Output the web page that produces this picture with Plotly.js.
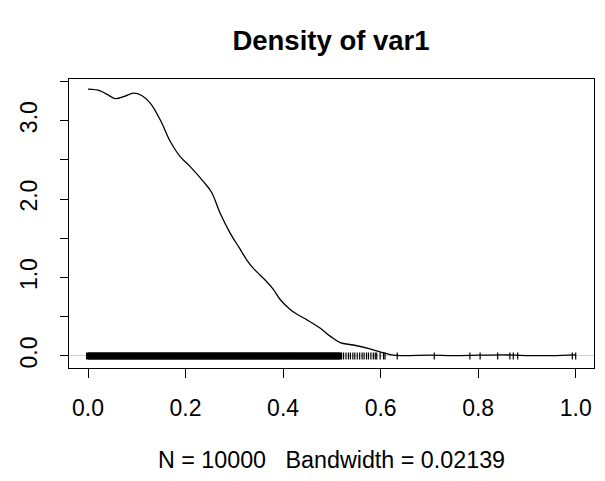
<!DOCTYPE html>
<html>
<head>
<meta charset="utf-8">
<script src="https://cdn.plot.ly/plotly-3.0.1.min.js"></script>
<style>html,body{margin:0;padding:0;background:#fff}#chart{width:605px;height:481px}</style>
</head>
<body>
<div id="chart"></div>
<script>
// Density estimate
var densX = [0, 0.025, 0.04, 0.056, 0.075, 0.093, 0.11, 0.128, 0.148, 0.169, 0.189, 0.21, 0.237, 0.253, 0.271, 0.292, 0.31, 0.326, 0.34, 0.353, 0.366, 0.38, 0.394, 0.415, 0.432, 0.449, 0.477, 0.497, 0.517, 0.544, 0.578, 0.60, 0.626, 0.65, 0.70, 0.75, 0.80, 0.85, 0.90, 0.95, 1.0];
var densY = [3.40, 3.38, 3.33, 3.28, 3.31, 3.35, 3.32, 3.22, 3.01, 2.73, 2.54, 2.41, 2.22, 2.09, 1.82, 1.56, 1.38, 1.22, 1.11, 1.03, 0.95, 0.85, 0.72, 0.59, 0.52, 0.46, 0.35, 0.25, 0.17, 0.14, 0.09, 0.05, 0.01, 0.005, 0.01, 0.005, 0.01, 0.015, 0.005, 0.005, 0.015];

// Rug: observations (dense band, then sparser tail)
var rugDense = [0.000,0.004,0.008,0.012,0.016,0.020,0.024,0.028,0.032,0.036,0.040,0.044,0.048,0.052,0.056,0.060,0.064,0.068,0.072,0.076,0.080,0.084,0.088,0.092,0.096,0.100,0.104,0.108,0.112,0.116,0.120,0.124,0.128,0.132,0.136,0.140,0.144,0.148,0.152,0.156,0.160,0.164,0.168,0.172,0.176,0.180,0.184,0.188,0.192,0.196,0.200,0.204,0.208,0.212,0.216,0.220,0.224,0.228,0.232,0.236,0.240,0.244,0.248,0.252,0.256,0.260,0.264,0.268,0.272,0.276,0.280,0.284,0.288,0.292,0.296,0.300,0.304,0.308,0.312,0.316,0.320,0.324,0.328,0.332,0.336,0.340,0.344,0.348,0.352,0.356,0.360,0.364,0.368,0.372,0.376,0.380,0.384,0.388,0.392,0.396,0.400,0.404,0.408,0.412,0.416,0.420,0.424,0.428,0.432,0.436,0.440,0.444,0.448,0.452,0.456,0.460,0.464,0.468,0.472,0.476,0.480,0.484,0.488,0.492,0.496,0.500,0.504,0.508,0.512,0.516];
var rugTail = [0.520,0.524,0.529,0.534,0.538,0.543,0.547,0.552,0.557,0.562,0.566,0.571,0.575,0.580,0.585,0.589,0.592,0.599,0.606,0.609,0.634,0.710,0.783,0.804,0.840,0.865,0.872,0.881,0.993,1.000];

var xTicks = [0, 0.2, 0.4, 0.6, 0.8, 1.0];
var xTickText = ["0.0", "0.2", "0.4", "0.6", "0.8", "1.0"];
var yTicks = [0, 0.5, 1, 1.5, 2, 2.5, 3, 3.5];
var yTickText = ["0.0", "", "1.0", "", "2.0", "", "3.0", ""];

var titleText = "Density of var1";
var xLabel = "N = 10000   Bandwidth = 0.02139";

function zeros(a){ return a.map(function(){ return 0; }); }

var traces = [
  {x: densX, y: densY, type: 'scatter', mode: 'lines', line: {color: '#000', width: 1.3, shape: 'spline', smoothing: 1}, hoverinfo: 'skip'},
  {x: rugDense, y: zeros(rugDense), type: 'scatter', mode: 'markers', marker: {symbol: 'line-ns', size: 5, color: '#000', line: {color: '#000', width: 4}}, hoverinfo: 'skip'},
  {x: rugTail, y: zeros(rugTail), type: 'scatter', mode: 'markers', marker: {symbol: 'line-ns', size: 5, color: '#000', line: {color: '#000', width: 1.2}}, hoverinfo: 'skip'}
];

var font = "Liberation Sans, Arial, Helvetica, sans-serif";
var layout = {
  width: 605, height: 481,
  margin: {l: 69, r: 11, t: 79, b: 113, pad: 0},
  paper_bgcolor: '#fff', plot_bgcolor: '#fff',
  showlegend: false,
  font: {family: font, color: '#000', size: 23},
  title: {text: '<b>' + titleText + '</b>', font: {family: font, size: 27.5, color: '#000'}, x: 331/605, xanchor: 'center', xref: 'container', y: 1 - 40/481, yanchor: 'middle', yref: 'container'},
  xaxis: {
    range: [-0.039, 1.0375], tickvals: xTicks, ticktext: xTickText,
    ticks: 'outside', ticklen: 9, tickwidth: 1, tickcolor: '#000',
    showline: true, linecolor: '#000', linewidth: 1, mirror: true,
    showgrid: false, zeroline: false,
    tickfont: {family: font, size: 23, color: '#000'},
    ticklabelstandoff: 10,
    title: {text: xLabel, font: {family: font, size: 23.3, color: '#000'}, standoff: 32}
  },
  yaxis: {
    range: [-0.153, 3.53], tickvals: yTicks, ticktext: yTickText,
    ticks: 'outside', ticklen: 8, tickwidth: 1, tickcolor: '#000', tickangle: -90,
    showline: true, linecolor: '#000', linewidth: 1, mirror: true,
    showgrid: false, zeroline: true, zerolinecolor: '#d0d0d0', zerolinewidth: 1,
    tickfont: {family: font, size: 23, color: '#000'},
    ticklabelstandoff: 14
  }
};

Plotly.newPlot('chart', traces, layout, {staticPlot: true, displayModeBar: false});
</script>
</body>
</html>
